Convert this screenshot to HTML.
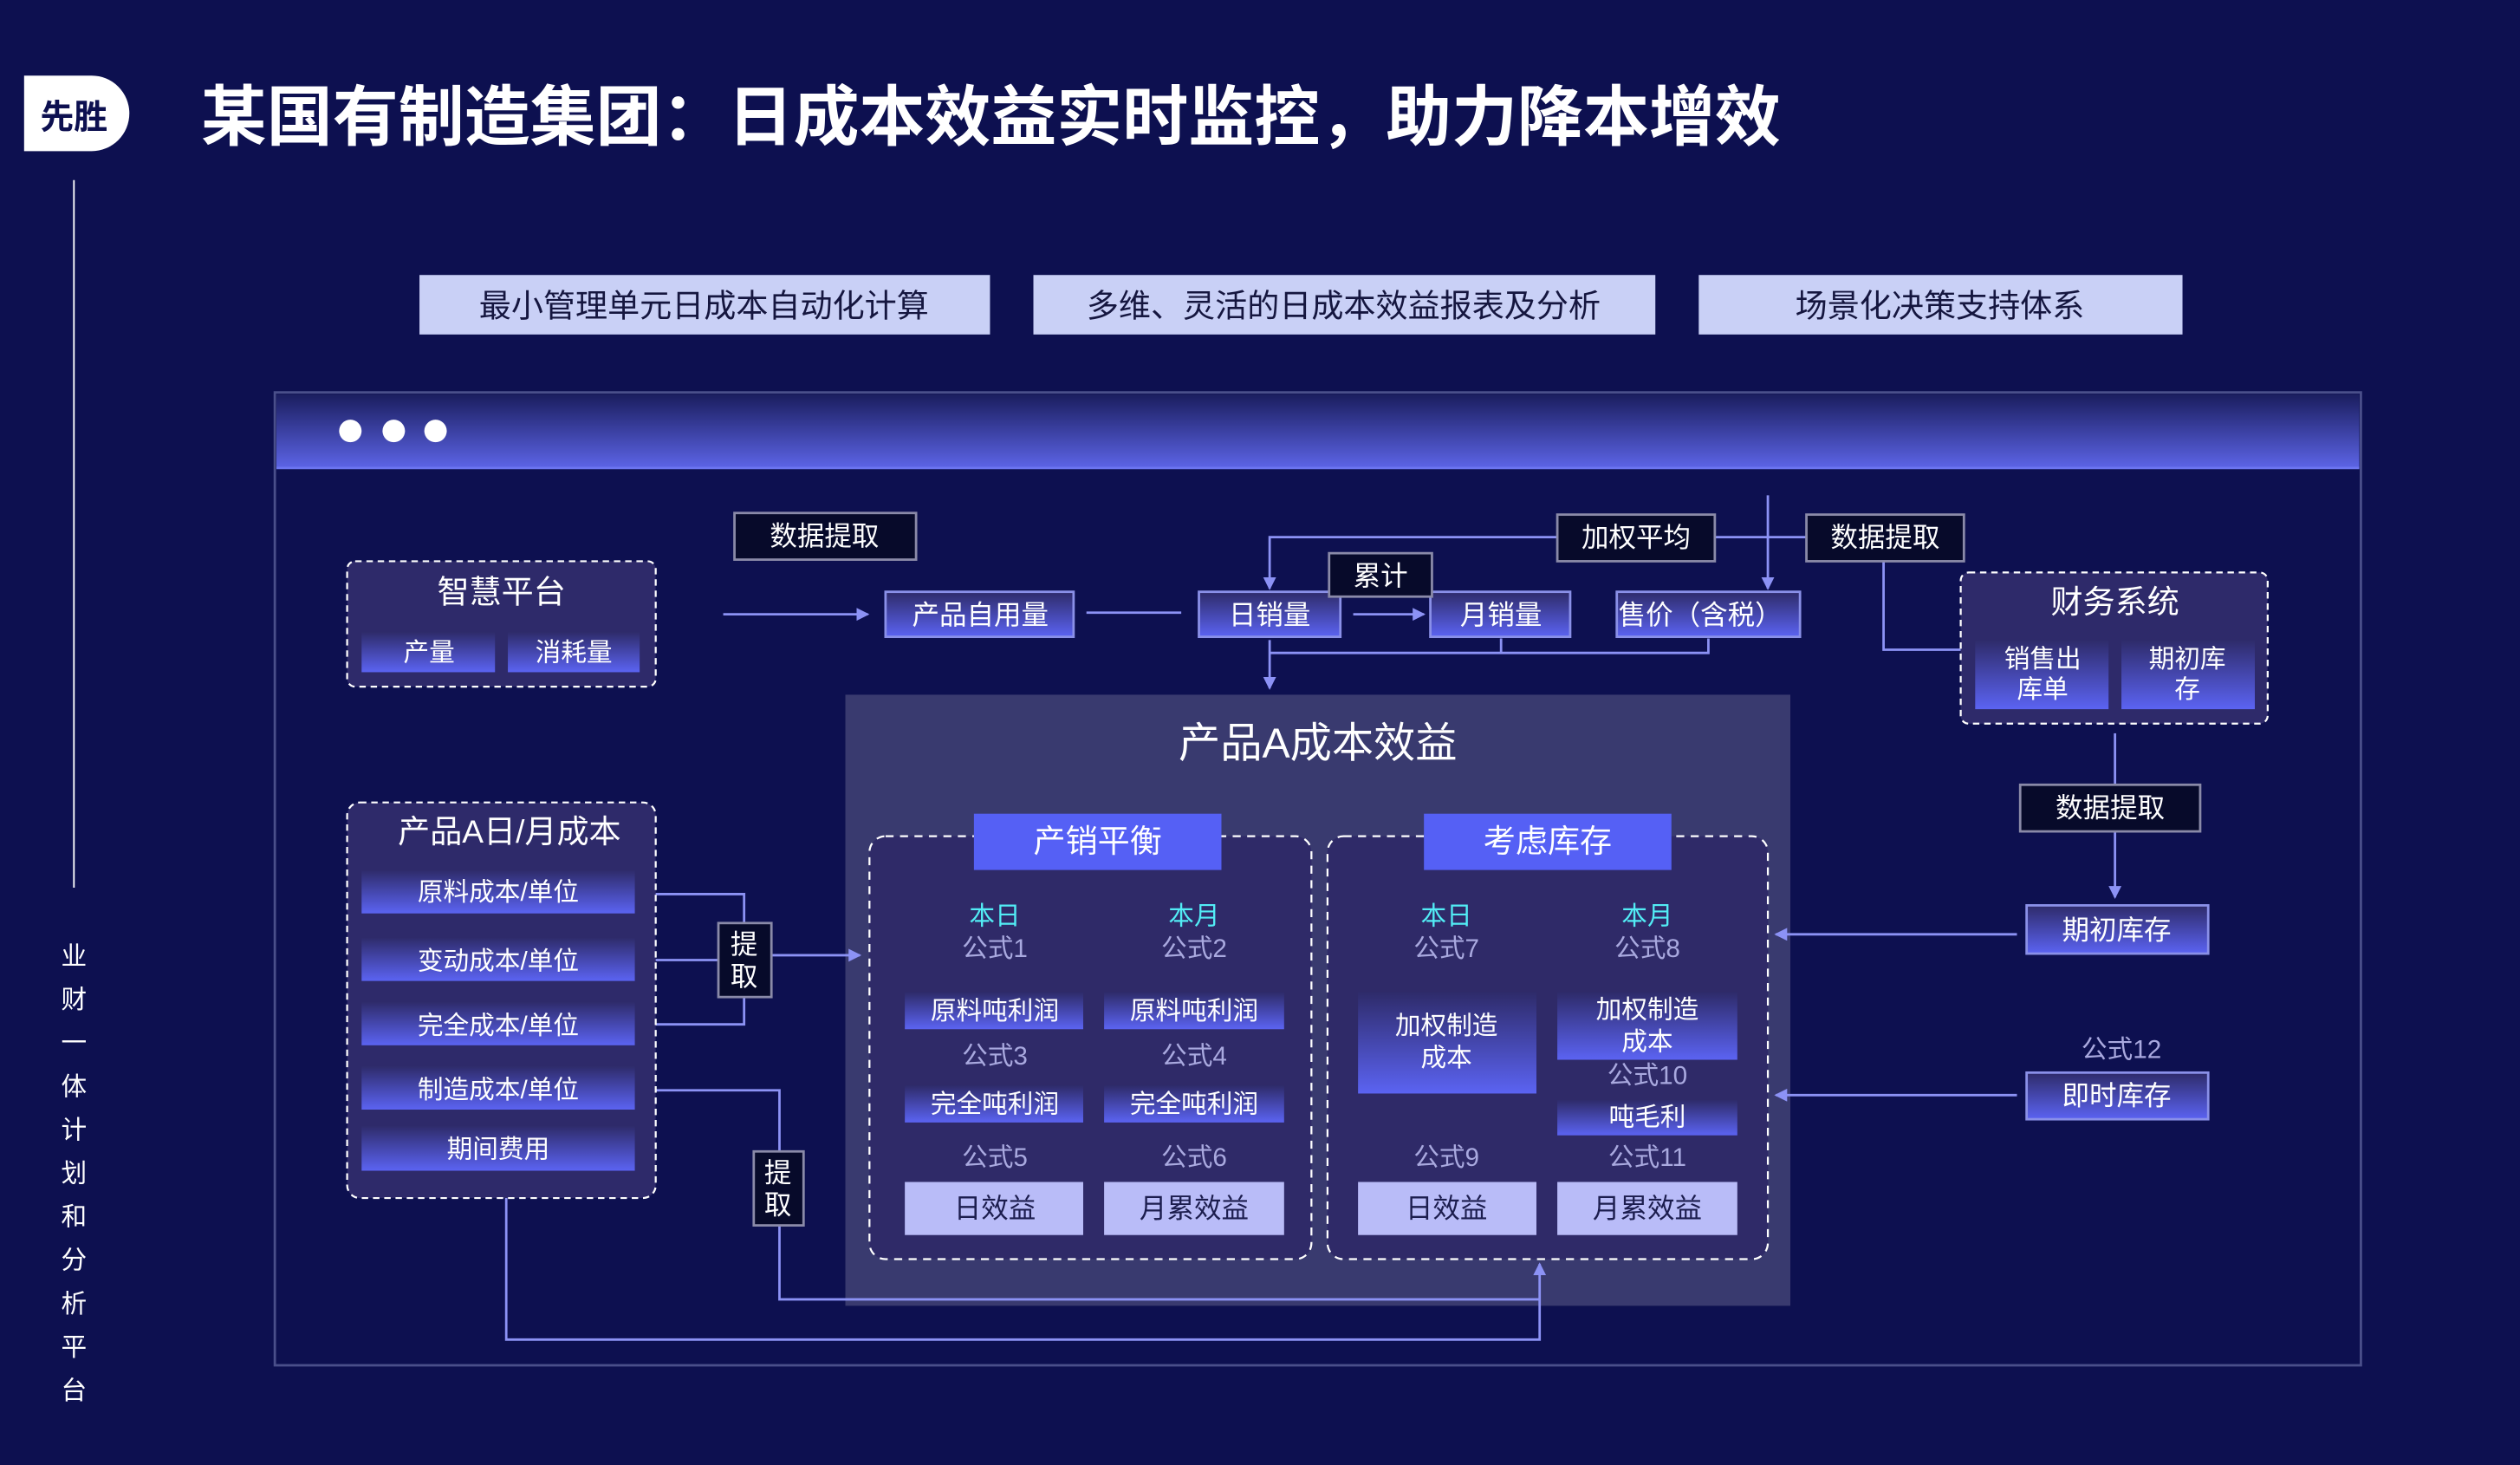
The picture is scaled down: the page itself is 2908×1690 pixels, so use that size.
<!DOCTYPE html>
<html><head><meta charset="utf-8"><style>
html,body{margin:0;padding:0;background:#0d1050;}
svg{display:block}
text{font-family:"Liberation Sans","Noto Sans CJK SC",sans-serif;}
</style></head><body>
<svg width="2908" height="1690" viewBox="0 0 1568 911" preserveAspectRatio="none" xmlns="http://www.w3.org/2000/svg">
<defs>
<linearGradient id="g" x1="0" y1="0" x2="0" y2="1"><stop offset="0" stop-color="#2e2b6a"/><stop offset="1" stop-color="#5b63f2"/></linearGradient>
<linearGradient id="hd" x1="0" y1="0" x2="0" y2="1"><stop offset="0" stop-color="#1a1d5e"/><stop offset="1" stop-color="#5c64e6"/></linearGradient>
<marker id="a" markerWidth="8" markerHeight="8" refX="7" refY="4" orient="auto" markerUnits="userSpaceOnUse"><path d="M0,0 L8,4 L0,8 z" fill="#8c92f5"/></marker>
</defs>
<rect width="1568" height="911" fill="#0d1050"/>
<path d="M15,47 H57 A23,23 0 0 1 57,94 H15 z" fill="#fff"/>
<text x="46" y="80" font-size="21" font-weight="bold" fill="#0d1050" text-anchor="middle">先胜</text>
<text x="125" y="87" font-size="41" font-weight="bold" fill="#fff" textLength="983" lengthAdjust="spacingAndGlyphs">某国有制造集团：日成本效益实时监控，助力降本增效</text>
<line x1="46" y1="112" x2="46" y2="552" stroke="#fff" stroke-width="1"/>
<g font-size="16" fill="#fff" text-anchor="middle">
<text x="46" y="600">业</text><text x="46" y="627">财</text><text x="46" y="654">一</text><text x="46" y="681">体</text><text x="46" y="708">计</text><text x="46" y="735">划</text><text x="46" y="762">和</text><text x="46" y="789">分</text><text x="46" y="816">析</text><text x="46" y="843">平</text><text x="46" y="870">台</text>
</g>
<g font-size="20" fill="#15163f" text-anchor="middle">
<rect x="261" y="171" width="355" height="37" fill="#c9d0f6"/><text x="438" y="197">最小管理单元日成本自动化计算</text>
<rect x="643" y="171" width="387" height="37" fill="#c9d0f6"/><text x="836" y="197">多维、灵活的日成本效益报表及分析</text>
<rect x="1057" y="171" width="301" height="37" fill="#c9d0f6"/><text x="1207" y="197">场景化决策支持体系</text>
</g>
<rect x="171" y="244" width="1298" height="605" fill="none" stroke="#4a4f8a" stroke-width="1.5"/>
<rect x="172" y="245" width="1296" height="46" fill="url(#hd)"/>
<line x1="172" y1="291" x2="1468" y2="291" stroke="#6c75f0" stroke-width="1.5"/>
<ellipse cx="218" cy="268" rx="7" ry="7" fill="#fff"/><ellipse cx="245" cy="268" rx="7" ry="7" fill="#fff"/><ellipse cx="271" cy="268" rx="7" ry="7" fill="#fff"/>
<rect x="526" y="432" width="588" height="380" fill="#393a6f"/>
<text x="820" y="471" font-size="26" fill="#fff" text-anchor="middle">产品A成本效益</text>
<rect x="541" y="520" width="275" height="263" rx="10" fill="#2f2a68" stroke="#fff" stroke-dasharray="5,4" stroke-width="1.2"/>
<rect x="826" y="520" width="274" height="263" rx="10" fill="#2f2a68" stroke="#fff" stroke-dasharray="5,4" stroke-width="1.2"/>
<rect x="606" y="506" width="154" height="35" fill="#5560f5"/><text x="683" y="530" font-size="20" fill="#fff" text-anchor="middle">产销平衡</text>
<rect x="886" y="506" width="154" height="35" fill="#5560f5"/><text x="963" y="530" font-size="20" fill="#fff" text-anchor="middle">考虑库存</text>
<g font-size="16" text-anchor="middle">
<text x="619" y="575" fill="#52ecf5">本日</text><text x="743" y="575" fill="#52ecf5">本月</text>
<text x="900" y="575" fill="#52ecf5">本日</text><text x="1025" y="575" fill="#52ecf5">本月</text>
<g fill="#a9a9df">
<text x="619" y="595">公式1</text><text x="743" y="595">公式2</text><text x="900" y="595">公式7</text><text x="1025" y="595">公式8</text>
<text x="619" y="662">公式3</text><text x="743" y="662">公式4</text><text x="1025" y="674">公式10</text>
<text x="619" y="725">公式5</text><text x="743" y="725">公式6</text><text x="900" y="725">公式9</text><text x="1025" y="725">公式11</text>
<text x="1320" y="658">公式12</text>
</g>
</g>
<g font-size="16" fill="#fff" text-anchor="middle">
<rect x="563" y="617" width="111" height="23" fill="url(#g)"/><text x="619" y="634">原料吨利润</text>
<rect x="687" y="617" width="112" height="23" fill="url(#g)"/><text x="743" y="634">原料吨利润</text>
<rect x="563" y="675" width="111" height="23" fill="url(#g)"/><text x="619" y="692">完全吨利润</text>
<rect x="687" y="675" width="112" height="23" fill="url(#g)"/><text x="743" y="692">完全吨利润</text>
<rect x="845" y="617" width="111" height="63" fill="url(#g)"/><text x="900" y="643">加权制造</text><text x="900" y="663">成本</text>
<rect x="969" y="617" width="112" height="42" fill="url(#g)"/><text x="1025" y="633">加权制造</text><text x="1025" y="653">成本</text>
<rect x="969" y="684" width="112" height="22" fill="url(#g)"/><text x="1025" y="700">吨毛利</text>
</g>
<g font-size="17" fill="#1c1d4e" text-anchor="middle">
<rect x="563" y="735" width="111" height="33" fill="#b9bcf8"/><text x="619" y="757">日效益</text>
<rect x="687" y="735" width="112" height="33" fill="#b9bcf8"/><text x="743" y="757">月累效益</text>
<rect x="845" y="735" width="111" height="33" fill="#b9bcf8"/><text x="900" y="757">日效益</text>
<rect x="969" y="735" width="112" height="33" fill="#b9bcf8"/><text x="1025" y="757">月累效益</text>
</g>
<g stroke="#8c92f5" stroke-width="1.5" fill="none">
<line x1="450" y1="382" x2="540" y2="382" marker-end="url(#a)"/>
<line x1="676" y1="381" x2="735" y2="381"/>
<polyline points="969,334 790,334 790,366" marker-end="url(#a)"/>
<line x1="1067" y1="334" x2="1124" y2="334"/>
<line x1="1100" y1="308" x2="1100" y2="366" marker-end="url(#a)"/>
<line x1="842" y1="382" x2="886" y2="382" marker-end="url(#a)"/>
<line x1="790" y1="398" x2="790" y2="428" marker-end="url(#a)"/>
<polyline points="790,406 1063,406 1063,397"/>
<line x1="934" y1="397" x2="934" y2="406"/>
<polyline points="1172,349 1172,404 1220,404"/>
<line x1="1316" y1="456" x2="1316" y2="488"/>
<line x1="1316" y1="517" x2="1316" y2="558" marker-end="url(#a)"/>
<line x1="1255" y1="581" x2="1105" y2="581" marker-end="url(#a)"/>
<line x1="1255" y1="681" x2="1105" y2="681" marker-end="url(#a)"/>
<polyline points="398,556 463,556 463,575"/>
<line x1="398" y1="597" x2="447" y2="597"/>
<polyline points="398,637 463,637 463,620"/>
<line x1="480" y1="594" x2="535" y2="594" marker-end="url(#a)"/>
<polyline points="398,678 485,678 485,716"/>
<polyline points="485,762 485,808 958,808"/>
<polyline points="315,745 315,833 958,833 958,786" marker-end="url(#a)"/>
</g>
<g font-size="17" fill="#fff" text-anchor="middle">
<rect x="457" y="319" width="113" height="29" fill="#070a2a" stroke="#8a8aa8" stroke-width="1.5"/><text x="513" y="339">数据提取</text>
<rect x="969" y="320" width="98" height="29" fill="#070a2a" stroke="#8a8aa8" stroke-width="1.5"/><text x="1018" y="340">加权平均</text>
<rect x="1124" y="320" width="98" height="29" fill="#070a2a" stroke="#8a8aa8" stroke-width="1.5"/><text x="1173" y="340">数据提取</text>
<rect x="1257" y="488" width="112" height="29" fill="#070a2a" stroke="#8a8aa8" stroke-width="1.5"/><text x="1313" y="508">数据提取</text>
<rect x="447" y="574" width="33" height="46" fill="#070a2a" stroke="#8a8aa8" stroke-width="1.5"/><text x="463" y="593">提</text><text x="463" y="613">取</text>
<rect x="469" y="716" width="31" height="46" fill="#070a2a" stroke="#8a8aa8" stroke-width="1.5"/><text x="484" y="735">提</text><text x="484" y="755">取</text>
</g>
<g font-size="17" fill="#fff" text-anchor="middle">
<rect x="551" y="368" width="117" height="28" fill="url(#g)" stroke="#8a90e8" stroke-width="1.5"/><text x="610" y="388">产品自用量</text>
<rect x="746" y="368" width="88" height="28" fill="url(#g)" stroke="#8a90e8" stroke-width="1.5"/><text x="790" y="388">日销量</text>
<rect x="890" y="368" width="87" height="28" fill="url(#g)" stroke="#8a90e8" stroke-width="1.5"/><text x="934" y="388">月销量</text>
<rect x="1006" y="368" width="114" height="28" fill="url(#g)" stroke="#8a90e8" stroke-width="1.5"/><text x="1058" y="388">售价（含税）</text>
<rect x="1261" y="563" width="113" height="30" fill="url(#g)" stroke="#8a90e8" stroke-width="1.5"/><text x="1317" y="584">期初库存</text>
<rect x="1261" y="667" width="113" height="29" fill="url(#g)" stroke="#8a90e8" stroke-width="1.5"/><text x="1317" y="687">即时库存</text>
<rect x="827" y="344" width="64" height="27" fill="#070a2a" stroke="#8a8aa8" stroke-width="1.5"/><text x="859" y="364">累计</text>
</g>
<rect x="216" y="349" width="192" height="78" rx="5" fill="#2e2a6a" stroke="#fff" stroke-dasharray="4,3" stroke-width="1.2"/>
<rect x="1220" y="356" width="191" height="94" rx="5" fill="#2e2a6a" stroke="#fff" stroke-dasharray="4,3" stroke-width="1.2"/>
<rect x="216" y="499" width="192" height="246" rx="8" fill="#2e2a6a" stroke="#fff" stroke-dasharray="4,3" stroke-width="1.2"/>
<g fill="#fff" text-anchor="middle">
<text x="312" y="375" font-size="20">智慧平台</text>
<text x="1316" y="381" font-size="20">财务系统</text>
<text x="317" y="524" font-size="20">产品A日/月成本</text>
<g font-size="16">
<rect x="225" y="393" width="83" height="25" fill="url(#g)"/><text x="267" y="411">产量</text>
<rect x="316" y="393" width="82" height="25" fill="url(#g)"/><text x="357" y="411">消耗量</text>
<rect x="1229" y="398" width="83" height="43" fill="url(#g)"/><text x="1271" y="415">销售出</text><text x="1271" y="434">库单</text>
<rect x="1320" y="398" width="83" height="43" fill="url(#g)"/><text x="1361" y="415">期初库</text><text x="1361" y="434">存</text>
<rect x="225" y="541" width="170" height="27" fill="url(#g)"/><text x="310" y="560">原料成本/单位</text>
<rect x="225" y="583" width="170" height="27" fill="url(#g)"/><text x="310" y="603">变动成本/单位</text>
<rect x="225" y="623" width="170" height="27" fill="url(#g)"/><text x="310" y="643">完全成本/单位</text>
<rect x="225" y="663" width="170" height="27" fill="url(#g)"/><text x="310" y="683">制造成本/单位</text>
<rect x="225" y="700" width="170" height="28" fill="url(#g)"/><text x="310" y="720">期间费用</text>
</g>
</g>
</svg>
</body></html>
